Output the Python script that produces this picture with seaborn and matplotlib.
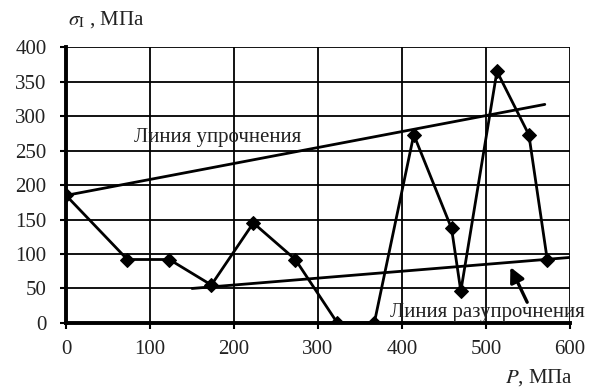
import matplotlib
matplotlib.use("Agg")
import matplotlib.pyplot as plt
import seaborn as sns
import pandas as pd

pressure = [0, 73, 123, 173, 223, 273, 323, 367, 414, 459, 470, 513, 551, 573]
stress = [185, 92, 92, 55, 145, 92, 0, 0, 273, 137, 46, 365, 273, 91]

harden_x = [0, 570]
harden_y = [185, 317]
soften_x = [150, 600]
soften_y = [50, 95]

x_ticks = [0, 100, 200, 300, 400, 500, 600]
y_ticks = [0, 50, 100, 150, 200, 250, 300, 350, 400]

sns.set_theme(style="white")
plt.rcParams['font.family'] = ['Liberation Serif', 'DejaVu Serif']
plt.rcParams['mathtext.fontset'] = 'stix'

fig = plt.figure(figsize=(5.95, 3.9), dpi=100)
ax = fig.add_axes([0.111, 0.172, 0.847, 0.707])

df = pd.DataFrame({"P": pressure, "S": stress})
sns.lineplot(data=df, x="P", y="S", ax=ax, color="black", linewidth=2,
             marker="D", markersize=7.5, markeredgecolor="black", sort=False, zorder=5)
sns.lineplot(x=harden_x, y=harden_y, ax=ax, color="black", linewidth=2)
sns.lineplot(x=soften_x, y=soften_y, ax=ax, color="black", linewidth=2)

ax.set_xlim(0, 600)
ax.set_ylim(0, 400)
ax.set_xticks(x_ticks)
ax.set_yticks(y_ticks)
ax.grid(True, color="black", linewidth=1.3)
ax.set_axisbelow(True)
for s in ["top", "right"]:
    ax.spines[s].set_visible(False)
for s in ["left", "bottom"]:
    ax.spines[s].set_color("black")
    ax.spines[s].set_linewidth(2.8)
ax.tick_params(axis="both", colors="black", labelsize=15, length=4, width=1.5,
               direction="out", left=True, bottom=True)
ax.tick_params(axis="x", pad=8)
ax.tick_params(axis="y", pad=10)
for lab in ax.get_xticklabels() + ax.get_yticklabels():
    lab.set_color("#222222")
ax.set_xlabel("")
ax.set_ylabel("")

ax.text(81, 269, "Линия упрочнения", fontsize=15, color="#222222", va="center", ha="left")
ax.text(386, 15, "Линия разупрочнения", fontsize=15, color="#222222", va="center", ha="left",
        clip_on=False, zorder=6)
ax.annotate("", xy=(529, 81), xytext=(549, 30),
            arrowprops=dict(arrowstyle="-|>", color="black", lw=2.4, mutation_scale=22,
                            shrinkA=0, shrinkB=0))

fig.text(68/595, 1 - 20/390, r"$\sigma_\mathrm{I}$ , МПа", fontsize=15, va="center", ha="left",
         color="#222222")
fig.text(573/595, 1 - 378/390, r"$P$, МПа", fontsize=15, va="center", ha="right",
         color="#222222")

fig.savefig("out.png", dpi=100)
